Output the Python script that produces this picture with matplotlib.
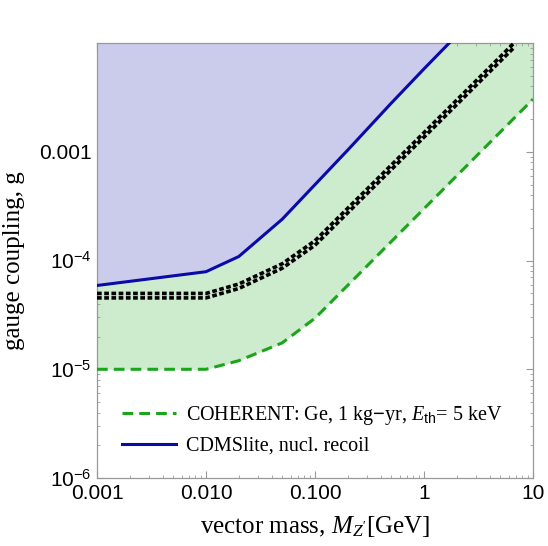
import numpy as np
import matplotlib.pyplot as plt
from matplotlib.ticker import FixedLocator, LogLocator, NullFormatter

plt.rcParams["mathtext.fontset"] = "custom"
plt.rcParams["mathtext.rm"] = "Liberation Sans"
plt.rcParams["mathtext.it"] = "Liberation Serif:italic"
plt.rcParams["mathtext.sf"] = "Liberation Sans"

# vector mass [GeV] and gauge coupling values
coh_mass = [0.001, 0.01, 0.02, 0.05, 0.1, 1.0, 10.0]
coh_g = [1.0e-5, 1.0e-5, 1.2e-5, 1.75e-5, 2.95e-5, 3.0e-4, 3.05e-3]

cdms_mass = [0.001, 0.01, 0.02, 0.05, 0.2, 0.5, 1.0, 1.7]
cdms_g = [5.9e-5, 7.9e-5, 1.09e-4, 2.4e-4, 1.04e-3, 2.8e-3, 5.8e-3, 1.0e-2]

band_mass = [0.001, 0.01, 0.02, 0.05, 0.1, 1.0, 6.6]
band_g = [4.75e-5, 4.75e-5, 5.8e-5, 8.9e-5, 1.45e-4, 1.43e-3, 9.4e-3]

xticks = [0.001, 0.01, 0.1, 1, 10]
xtick_labels = ["0.001", "0.010", "0.100", "1", "10"]
yticks = [1e-6, 1e-5, 1e-4, 1e-3]
ytick_labels = [r"$10^{-6}$", r"$10^{-5}$", r"$10^{-4}$", "0.001"]

xmin, xmax = 0.001, 10.0
ymin, ymax = 1e-6, 1e-2

fig = plt.figure(figsize=(5.48, 5.46), dpi=100)
ax = fig.add_axes([0.177, 0.1245, 0.7956, 0.7965])

# shaded regions
xx = np.logspace(-3, 1, 600)
g_coh = np.exp(np.interp(np.log(xx), np.log(coh_mass), np.log(coh_g)))
ax.fill_between(xx, g_coh, ymax, color="#cdebcd", lw=0, zorder=1)
xc = np.logspace(np.log10(cdms_mass[0]), np.log10(cdms_mass[-1]), 400)
g_cd = np.exp(np.interp(np.log(xc), np.log(cdms_mass), np.log(cdms_g)))
ax.fill_between(xc, g_cd, ymax, color="#cbcbeb", lw=0, zorder=2)

# lines
ax.plot(coh_mass, coh_g, color="#1aa51a", lw=2.2, ls=(0, (3.5, 2)), zorder=4,
        label=r"COHERENT: Ge, 1 kg$-$yr, $E_{\mathrm{th}}$= 5 keV")
ax.plot(cdms_mass, cdms_g, color="#0a0aaa", lw=2.2, zorder=4,
        label="CDMSlite, nucl. recoil")
for f in (0.955, 1.05):
    ax.plot(band_mass, np.array(band_g) * f, color="black", lw=2.6,
            ls=(0, (1.3, 0.7)), zorder=5)

ax.set_xscale("log")
ax.set_yscale("log")
ax.set_xlim(xmin, xmax)
ax.set_ylim(ymin, ymax)

ax.xaxis.set_major_locator(FixedLocator(xticks))
ax.set_xticklabels(xtick_labels, fontfamily="Liberation Sans", fontsize=15)
ax.yaxis.set_major_locator(FixedLocator(yticks))
ax.set_yticklabels(ytick_labels, fontfamily="Liberation Sans", fontsize=15)

ax.xaxis.set_minor_locator(LogLocator(base=10, subs=np.arange(2, 10), numticks=20))
ax.yaxis.set_minor_locator(LogLocator(base=10, subs=np.arange(2, 10), numticks=20))
ax.xaxis.set_minor_formatter(NullFormatter())
ax.yaxis.set_minor_formatter(NullFormatter())
ax.tick_params(which="both", direction="in", top=True, right=True, color="#999999")
ax.tick_params(which="major", length=5, width=0.8, pad=4)
ax.tick_params(which="minor", length=2.5, width=0.6)
for s in ax.spines.values():
    s.set_color("#999999")
    s.set_linewidth(0.9)

ax.set_xlabel(r"vector mass, $M_{Z'}$[GeV]", fontfamily="Liberation Serif", fontsize=18, labelpad=8)
ax.set_ylabel("gauge coupling, g", fontfamily="Liberation Serif", fontsize=18, labelpad=10)

leg = ax.legend(loc="lower left", bbox_to_anchor=(0.015, 0.01), frameon=False,
                prop={"family": "Liberation Serif", "size": 14.5},
                handlelength=2.7, handletextpad=0.5, labelspacing=0.45)

fig.savefig("out.png", dpi=100)
